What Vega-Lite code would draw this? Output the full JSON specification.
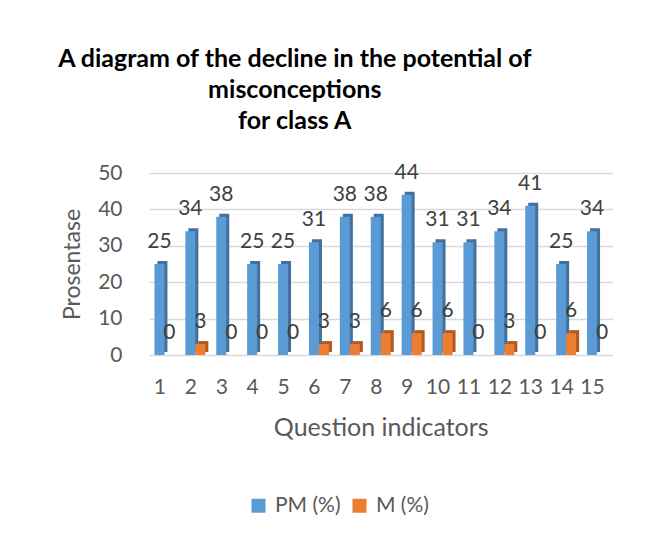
{
  "$schema": "https://vega.github.io/schema/vega-lite/v6.json",
  "autosize": "none",
  "width": 463.5,
  "height": 182,
  "padding": {"left": 149, "top": 173, "right": 48.5, "bottom": 178},
  "background": "white",
  "config": {
    "font": "Lato",
    "view": {"stroke": null},
    "axis": {"labelColor": "#595959", "titleColor": "#595959", "labelFont": "Lato", "titleFont": "Lato"}
  },
  "title": {
    "text": ["A diagram of the decline in the potential of", "misconceptions", "for class A"],
    "font": "Lato",
    "fontSize": 25,
    "fontWeight": "bold",
    "color": "#000000",
    "anchor": "middle",
    "dx": -86,
    "offset": 28,
    "lineHeight": 31
  },
  "data": {
    "values": [
      {"q": "1", "series": "PM (%)", "value": 25}, {"q": "1", "series": "M (%)", "value": 0},
      {"q": "2", "series": "PM (%)", "value": 34}, {"q": "2", "series": "M (%)", "value": 3},
      {"q": "3", "series": "PM (%)", "value": 38}, {"q": "3", "series": "M (%)", "value": 0},
      {"q": "4", "series": "PM (%)", "value": 25}, {"q": "4", "series": "M (%)", "value": 0},
      {"q": "5", "series": "PM (%)", "value": 25}, {"q": "5", "series": "M (%)", "value": 0},
      {"q": "6", "series": "PM (%)", "value": 31}, {"q": "6", "series": "M (%)", "value": 3},
      {"q": "7", "series": "PM (%)", "value": 38}, {"q": "7", "series": "M (%)", "value": 3},
      {"q": "8", "series": "PM (%)", "value": 38}, {"q": "8", "series": "M (%)", "value": 6},
      {"q": "9", "series": "PM (%)", "value": 44}, {"q": "9", "series": "M (%)", "value": 6},
      {"q": "10", "series": "PM (%)", "value": 31}, {"q": "10", "series": "M (%)", "value": 6},
      {"q": "11", "series": "PM (%)", "value": 31}, {"q": "11", "series": "M (%)", "value": 0},
      {"q": "12", "series": "PM (%)", "value": 34}, {"q": "12", "series": "M (%)", "value": 3},
      {"q": "13", "series": "PM (%)", "value": 41}, {"q": "13", "series": "M (%)", "value": 0},
      {"q": "14", "series": "PM (%)", "value": 25}, {"q": "14", "series": "M (%)", "value": 6},
      {"q": "15", "series": "PM (%)", "value": 34}, {"q": "15", "series": "M (%)", "value": 0}
    ]
  },
  "encoding": {
    "x": {
      "field": "q",
      "type": "ordinal",
      "sort": null,
      "scale": {"paddingInner": 0.35, "paddingOuter": 0.175},
      "axis": {
        "title": "Question indicators",
        "labelAngle": 0,
        "labelFontSize": 21,
        "titleFontSize": 25,
        "titleFontWeight": "normal",
        "ticks": false,
        "domain": false,
        "labelPadding": 21,
        "titlePadding": 18,
        "labelOffset": -4.5
      }
    },
    "y": {
      "field": "value",
      "type": "quantitative",
      "scale": {"domain": [0, 50]},
      "axis": {
        "title": "Prosentase",
        "values": [0, 10, 20, 30, 40, 50],
        "labelFontSize": 21,
        "titleFontSize": 23,
        "titleFontWeight": "normal",
        "ticks": false,
        "domain": false,
        "gridColor": "#d9d9d9",
        "gridWidth": 1.5,
        "labelPadding": 27,
        "titlePadding": 13
      }
    }
  },
  "layer": [
    {
      "transform": [{"filter": "datum.series === 'PM (%)'"}],
      "mark": {"type": "bar", "width": 10, "xOffset": -2, "yOffset": -3, "color": "#41719c"}
    },
    {
      "transform": [{"filter": "datum.series === 'M (%)'"}],
      "mark": {"type": "bar", "width": 10, "xOffset": 8, "yOffset": -3, "color": "#ae5a21"}
    },
    {
      "transform": [{"filter": "datum.series === 'PM (%)'"}],
      "mark": {"type": "bar", "width": 10, "xOffset": -5},
      "encoding": {
        "color": {
          "field": "series",
          "type": "nominal",
          "scale": {"domain": ["PM (%)", "M (%)"], "range": ["#5b9bd5", "#ed7d31"]},
          "legend": {
            "title": null,
            "orient": "none",
            "direction": "horizontal",
            "legendX": 99,
            "legendY": 322,
            "symbolType": "square",
            "symbolSize": 196,
            "symbolStrokeWidth": 0,
            "labelFontSize": 21,
            "labelColor": "#595959",
            "labelFont": "Lato",
            "labelOffset": 6,
            "columnPadding": 8
          }
        }
      }
    },
    {
      "transform": [{"filter": "datum.series === 'M (%)'"}],
      "mark": {"type": "bar", "width": 10, "xOffset": 5},
      "encoding": {
        "color": {"field": "series", "type": "nominal"}
      }
    },
    {
      "transform": [{"filter": "datum.series === 'PM (%)'"}],
      "mark": {"type": "text", "baseline": "alphabetic", "dy": -16, "dx": -5, "fontSize": 21, "color": "#404040"},
      "encoding": {"text": {"field": "value", "type": "quantitative"}}
    },
    {
      "transform": [{"filter": "datum.series === 'M (%)'"}],
      "mark": {"type": "text", "baseline": "alphabetic", "dy": -16, "dx": 5, "fontSize": 21, "color": "#404040"},
      "encoding": {"text": {"field": "value", "type": "quantitative"}}
    }
  ]
}
